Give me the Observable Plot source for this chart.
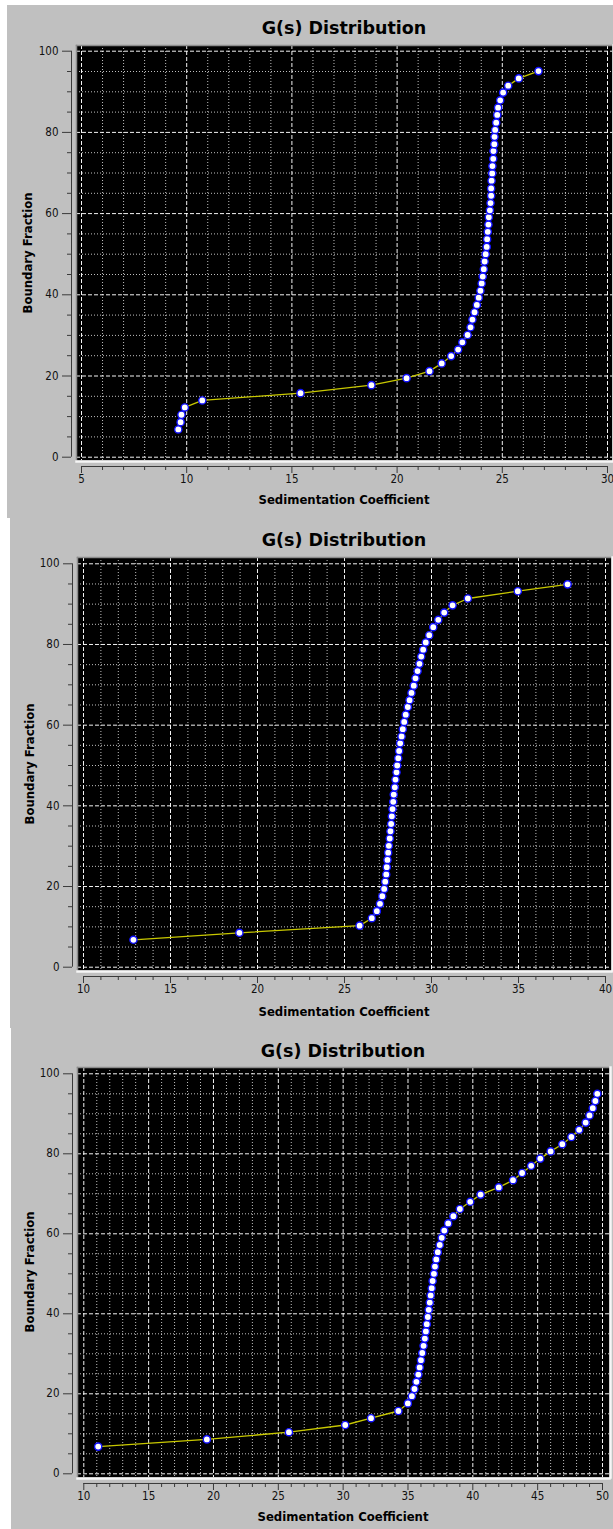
<!DOCTYPE html>
<html>
<head>
<meta charset="utf-8">
<script src="https://cdn.jsdelivr.net/npm/d3@7"></script>
<script src="https://cdn.jsdelivr.net/npm/@observablehq/plot@0.6"></script>
<style>
  html, body { margin: 0; padding: 0; background: #ffffff; }
  body { width: 613px; height: 1529px; position: relative; overflow: hidden;
         font-family: "DejaVu Sans", sans-serif; }
  .panel { position: absolute; background: #c0c0c0; overflow: hidden; }
  .panel svg { position: absolute; left: 0; top: 0; }
  .title { position: absolute; transform: translate(-50%, -50%); font-weight: bold; font-size: 17.5px; color: #000; white-space: nowrap; }
  .xtitle { position: absolute; transform: translate(-50%, -50%); font-weight: bold; font-size: 11.7px; color: #000; white-space: nowrap; }
  .ytitle { position: absolute; transform: translate(-50%, -50%) rotate(-90deg); font-weight: bold; font-size: 11.7px; color: #000; white-space: nowrap; }
</style>
</head>
<body>
<script>
// ---------- DATA ----------
const chartTitle = "G(s) Distribution";
const xLabel = "Sedimentation Coefficient";
const yLabel = "Boundary Fraction";

// Panel 1
const s1 = [9.60, 9.71, 9.75, 9.91, 10.74, 15.41, 18.78, 20.45, 21.54, 22.12,
            22.57, 22.90, 23.10, 23.35, 23.49, 23.58, 23.68, 23.79, 23.88, 23.96,
            24.02, 24.07, 24.12, 24.16, 24.21, 24.26, 24.28, 24.31, 24.34, 24.36,
            24.41, 24.44, 24.47, 24.47, 24.49, 24.52, 24.53, 24.57, 24.58, 24.62,
            24.63, 24.66, 24.71, 24.76, 24.80, 24.90, 25.04, 25.28, 25.78, 26.72];
const f1 = [6.83, 8.63, 10.45, 12.25, 13.98, 15.78, 17.75, 19.47, 21.2, 23.1,
            24.9, 26.5, 28.3, 30.1, 32.0, 33.9, 35.7, 37.5, 39.3, 41.0,
            42.8, 44.5, 46.3, 48.2, 50.0, 51.8, 53.7, 55.5, 57.3, 59.1,
            60.8, 62.6, 64.4, 66.2, 68.1, 69.9, 71.7, 73.5, 75.4, 77.1,
            78.9, 80.6, 82.4, 84.3, 86.1, 87.9, 89.8, 91.5, 93.3, 95.1];
const xTicks1 = [5, 10, 15, 20, 25, 30];

// Panel 2
const s2 = [12.87, 18.96, 25.87, 26.57, 26.86, 27.04, 27.17, 27.28, 27.34, 27.40,
            27.43, 27.47, 27.51, 27.55, 27.60, 27.64, 27.68, 27.72, 27.76, 27.80,
            27.83, 27.89, 27.93, 27.99, 28.03, 28.09, 28.14, 28.20, 28.28, 28.35,
            28.43, 28.52, 28.64, 28.74, 28.85, 28.98, 29.08, 29.20, 29.31, 29.41,
            29.52, 29.67, 29.87, 30.10, 30.39, 30.73, 31.21, 32.09, 34.96, 37.82];
const f2 = [6.79, 8.53, 10.3, 12.15, 13.9, 15.7, 17.6, 19.4, 21.2, 23.0,
            24.8, 26.6, 28.4, 30.1, 31.9, 33.7, 35.5, 37.4, 39.2, 41.0,
            42.8, 44.6, 46.5, 48.3, 50.0, 51.8, 53.6, 55.5, 57.2, 59.0,
            60.8, 62.6, 64.5, 66.2, 68.0, 69.8, 71.6, 73.4, 75.2, 77.0,
            78.7, 80.5, 82.3, 84.3, 86.1, 87.9, 89.7, 91.4, 93.2, 94.9];
const xTicks2 = [10, 15, 20, 25, 30, 35, 40];

// Panel 3
const s3 = [11.11, 19.49, 25.82, 30.16, 32.15, 34.26, 34.99, 35.30, 35.50, 35.65,
            35.80, 35.90, 36.00, 36.10, 36.20, 36.30, 36.38, 36.45, 36.53, 36.60,
            36.68, 36.75, 36.83, 36.90, 37.00, 37.08, 37.18, 37.30, 37.45, 37.60,
            37.80, 38.10, 38.50, 39.00, 39.80, 40.60, 42.00, 43.10, 43.80, 44.50,
            45.20, 46.00, 46.90, 47.60, 48.20, 48.70, 49.00, 49.25, 49.45, 49.60];
const f3 = [6.8, 8.6, 10.4, 12.2, 13.9, 15.7, 17.6, 19.4, 21.2, 23.0,
            24.8, 26.6, 28.4, 30.2, 32.0, 33.8, 35.6, 37.4, 39.2, 41.0,
            42.8, 44.6, 46.4, 48.2, 50.0, 51.8, 53.6, 55.4, 57.2, 59.0,
            60.8, 62.6, 64.4, 66.2, 68.0, 69.8, 71.6, 73.4, 75.2, 77.0,
            78.8, 80.6, 82.4, 84.2, 86.0, 87.8, 89.6, 91.4, 93.2, 95.0];
const xTicks3 = [10, 15, 20, 25, 30, 35, 40, 45, 50];

const yTicks = [0, 20, 40, 60, 80, 100];

// ---------- LAYOUT (page pixels) ----------
const layouts = [
  { left: 7,  top: 5,    bottom: 518,  frame: {l: 76, r: 612, t: 45,   b: 460},  xpx: [81, 607],   ypx: [456.7, 50.7],   titleY: 28,   xTitleY: 500,  yTitleX: 28 },
  { left: 10, top: 518,  bottom: 1028, frame: {l: 77, r: 611, t: 557,  b: 970},  xpx: [83, 605],   ypx: [966.7, 563.3],  titleY: 540,  xTitleY: 1012, yTitleX: 30 },
  { left: 11, top: 1028, bottom: 1529, frame: {l: 77, r: 609, t: 1067, b: 1477}, xpx: [83.3, 602], ypx: [1473.3, 1073.3], titleY: 1051, xTitleY: 1517, yTitleX: 30 }
];

const series = [
  { s: s1, f: f1, xTicks: xTicks1 },
  { s: s2, f: f2, xTicks: xTicks2 },
  { s: s3, f: f3, xTicks: xTicks3 }
];

const PAGE_W = 613;
const FONT = "'DejaVu Sans Condensed', 'DejaVu Sans', sans-serif";

function minorBetween(major, step) {
  const lo = major[0], hi = major[major.length - 1];
  return d3.range(lo, hi + step / 2, step).filter(v => !major.some(m => Math.abs(m - v) < 1e-9));
}

series.forEach((ser, i) => {
  const L = layouts[i];
  const W = PAGE_W - L.left, H = L.bottom - L.top;
  const data = ser.s.map((s, k) => ({ s, f: ser.f[k] }));
  const xDom = [ser.xTicks[0], ser.xTicks[ser.xTicks.length - 1]];
  const yDom = [yTicks[0], yTicks[yTicks.length - 1]];
  const xMinor = minorBetween(ser.xTicks, 1);
  const yMinor = minorBetween(yTicks, 5);

  const yAxisDx = -(L.xpx[0] - L.frame.l) - 5;          // axis line 5px left of frame
  const xAxisDy = (L.frame.b - L.ypx[0]) + 6;           // axis line 6px below frame

  const panel = document.createElement("div");
  panel.className = "panel";
  Object.assign(panel.style, { left: L.left + "px", top: L.top + "px", width: W + "px", height: H + "px" });
  document.body.appendChild(panel);

  const chart = Plot.plot({
    width: W,
    height: H,
    marginLeft: L.frame.l - L.left,
    marginRight: PAGE_W - L.frame.r,
    marginTop: L.frame.t - L.top,
    marginBottom: L.bottom - L.frame.b,
    style: { background: "transparent", fontFamily: FONT, fontSize: "11.5px", color: "#111", overflow: "visible" },
    x: { domain: xDom, insetLeft: L.xpx[0] - L.frame.l, insetRight: L.frame.r - L.xpx[1], axis: null },
    y: { domain: yDom, insetTop: L.ypx[1] - L.frame.t, insetBottom: L.frame.b - L.ypx[0], axis: null },
    marks: [
      Plot.frame({ fill: "black" }),
      Plot.gridX(xMinor, { stroke: "#ffffff", strokeOpacity: 0.75, strokeDasharray: "1,2" }),
      Plot.gridY(yMinor, { stroke: "#ffffff", strokeOpacity: 0.75, strokeDasharray: "1,2" }),
      Plot.gridX(ser.xTicks, { stroke: "#ffffff", strokeOpacity: 0.95, strokeDasharray: "4,2" }),
      Plot.gridY(yTicks, { stroke: "#ffffff", strokeOpacity: 0.95, strokeDasharray: "4,2" }),
      Plot.line(data, { x: "s", y: "f", stroke: "#c8c800", strokeWidth: 1.3, curve: "linear" }),
      Plot.dot(data, { x: "s", y: "f", r: 3.6, fill: "#ffffff", stroke: "#1010ff", strokeWidth: 1.4 }),
      Plot.frame({ anchor: "top", stroke: "#8c8c8c", strokeWidth: 1.5 }),
      Plot.frame({ anchor: "left", stroke: "#8c8c8c", strokeWidth: 1.5 }),
      Plot.frame({ anchor: "bottom", stroke: "#f6f6f6", strokeWidth: 2.5, dy: 1 }),
      Plot.frame({ anchor: "right", stroke: "#f6f6f6", strokeWidth: 2.5, dx: 1 }),
      // axis lines
      Plot.ruleX([xDom[0]], { y1: yDom[0], y2: yDom[1], dx: yAxisDx, stroke: "#3a3a3a", strokeWidth: 1 }),
      Plot.ruleY([yDom[0]], { x1: xDom[0], x2: xDom[1], dy: xAxisDy, stroke: "#3a3a3a", strokeWidth: 1 }),
      // y axis ticks
      Plot.axisY(yMinor, { anchor: "left", label: null, dx: yAxisDx + (L.xpx[0] - L.frame.l), tickSize: 4, tickFormat: () => "", stroke: "#3a3a3a" }),
      Plot.axisY(yTicks, { anchor: "left", label: null, dx: yAxisDx + (L.xpx[0] - L.frame.l), tickSize: 9, tickPadding: 4, stroke: "#3a3a3a", fill: "#111" }),
      // x axis ticks
      Plot.axisX(xMinor, { anchor: "bottom", label: null, dy: 6, tickSize: 4, tickFormat: () => "", stroke: "#3a3a3a" }),
      Plot.axisX(ser.xTicks, { anchor: "bottom", label: null, dy: 6, tickSize: 7, tickPadding: 1, stroke: "#3a3a3a", fill: "#111" })
    ]
  });
  panel.appendChild(chart);

  const cx = (L.frame.l + L.frame.r) / 2 - L.left;
  const t = document.createElement("div");
  t.className = "title"; t.textContent = chartTitle;
  Object.assign(t.style, { left: cx + "px", top: (L.titleY - L.top) + "px" });
  panel.appendChild(t);

  const xt = document.createElement("div");
  xt.className = "xtitle"; xt.textContent = xLabel;
  Object.assign(xt.style, { left: cx + "px", top: (L.xTitleY - L.top) + "px" });
  panel.appendChild(xt);

  const yt = document.createElement("div");
  yt.className = "ytitle"; yt.textContent = yLabel;
  Object.assign(yt.style, { left: (L.yTitleX - L.left) + "px", top: ((L.frame.t + L.frame.b) / 2 - L.top) + "px" });
  panel.appendChild(yt);
});
</script>
</body>
</html>
